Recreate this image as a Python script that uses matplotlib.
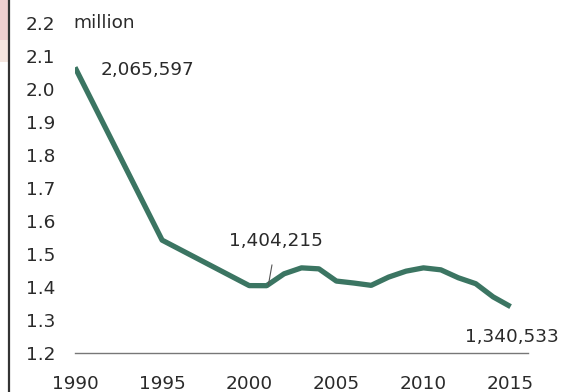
import matplotlib
matplotlib.use("Agg")
import matplotlib.pyplot as plt
from matplotlib.patches import Rectangle
from matplotlib.lines import Line2D

years = [1990, 1995, 2000, 2001, 2002, 2003, 2004, 2005, 2006, 2007, 2008,
         2009, 2010, 2011, 2012, 2013, 2014, 2015]
values = [2.065597, 1.542, 1.404215, 1.404, 1.44, 1.458, 1.455, 1.418, 1.412,
          1.405, 1.43, 1.448, 1.458, 1.452, 1.428, 1.41, 1.37, 1.340533]
xticks = [1990, 1995, 2000, 2005, 2010, 2015]
yticks = [1.2, 1.3, 1.4, 1.5, 1.6, 1.7, 1.8, 1.9, 2.0, 2.1, 2.2]

W, H = 568, 392
fig = plt.figure(figsize=(W / 100, H / 100), dpi=100)
fig.patch.set_facecolor("white")

FONT = "DejaVu Sans"
FS = 13.3
TXT = "#2a2a2a"

# left frame artefacts
fig.patches.append(Rectangle((0, 1 - 40 / H), 8 / W, 40 / H, transform=fig.transFigure,
                             facecolor="#efcfcf", edgecolor="none"))
fig.patches.append(Rectangle((0, 1 - 62 / H), 8 / W, 22 / H, transform=fig.transFigure,
                             facecolor="#f5e6df", edgecolor="none"))
fig.lines.append(Line2D([8.5 / W, 8.5 / W], [0, 1], transform=fig.transFigure,
                        color="#333333", lw=1.6))

ax = fig.add_axes([75 / W, 39 / H, 453 / W, 330 / H])
ax.set_xlim(1990, 2016)
ax.set_ylim(1.2, 2.2)
ax.plot(years, values, color="#3b7562", lw=3.8, solid_capstyle="butt",
        solid_joinstyle="round")

for s in ["top", "right", "left"]:
    ax.spines[s].set_visible(False)
ax.spines["bottom"].set_color("#777777")
ax.spines["bottom"].set_linewidth(1.0)

ax.set_xticks(xticks)
ax.set_xticklabels([str(x) for x in xticks], fontfamily=FONT, fontsize=FS, color=TXT)
ax.set_yticks(yticks)
ax.set_yticklabels([f"{y:.1f}" for y in yticks], fontfamily=FONT, fontsize=FS, color=TXT)
ax.tick_params(axis="both", length=0)
ax.tick_params(axis="y", pad=14.4)
ax.tick_params(axis="x", pad=16)

ax.text(1989.9, 2.2, "million", fontfamily=FONT, fontsize=FS, color=TXT,
        ha="left", va="center")
ax.text(1991.45, 2.058, "2,065,597", fontfamily=FONT, fontsize=FS, color=TXT,
        ha="left", va="center")
ax.annotate("1,404,215", xy=(2001.1, 1.406), xytext=(2001.55, 1.54),
            fontfamily=FONT, fontsize=FS, color=TXT, ha="center", va="center",
            arrowprops=dict(arrowstyle="-", color="#555555", lw=0.8,
                            shrinkA=9, shrinkB=0))
ax.text(2012.4, 1.248, "1,340,533", fontfamily=FONT, fontsize=FS, color=TXT,
        ha="left", va="center")

fig.savefig("out.png", dpi=100, facecolor="white")
